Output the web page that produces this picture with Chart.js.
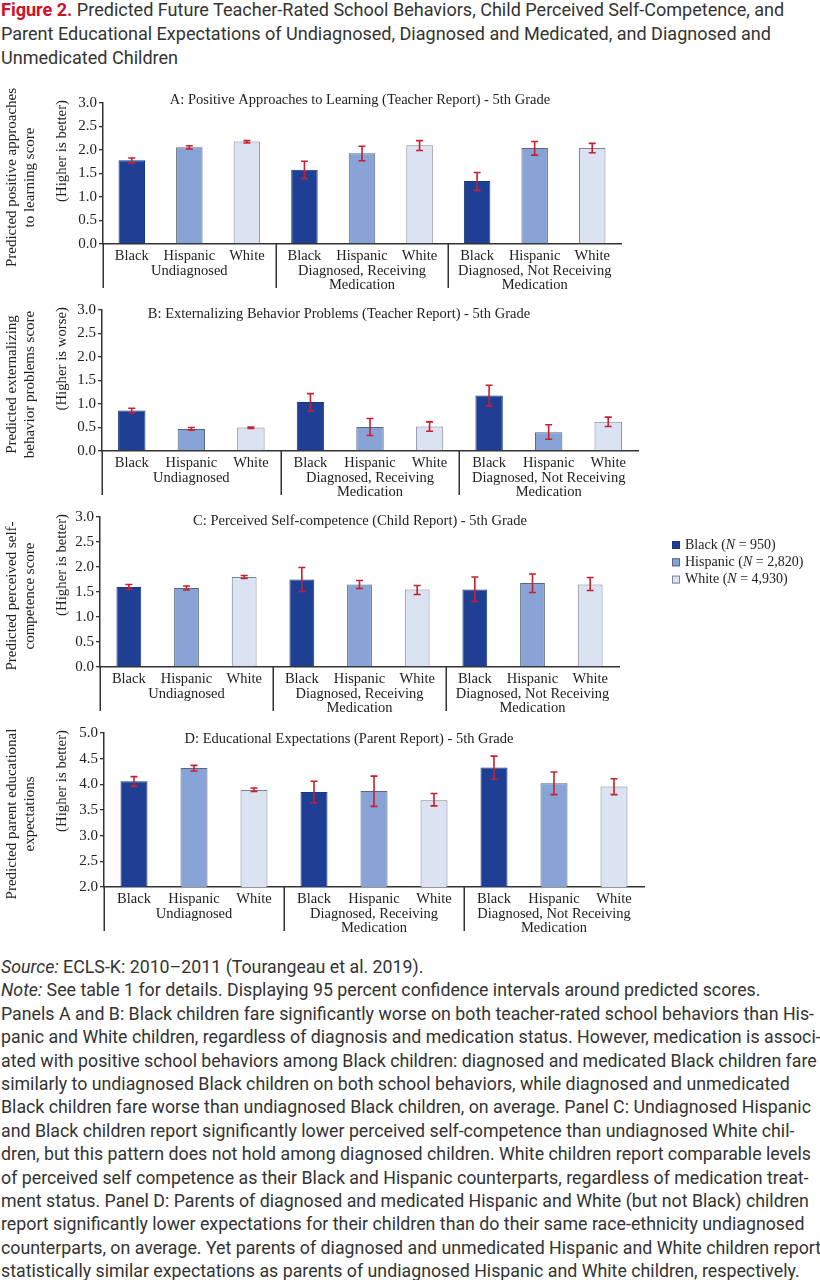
<!DOCTYPE html>
<html><head><meta charset="utf-8">
<script src="https://cdn.jsdelivr.net/npm/chart.js@4"></script>
<style>
html,body{margin:0;padding:0;background:#fff;}
body{width:820px;height:1280px;position:relative;overflow:hidden;}
.txt{position:absolute;left:1px;font-family:Roboto,"Liberation Sans",sans-serif;color:#333;white-space:nowrap;transform-origin:0 0;}
.txt div{white-space:nowrap;}
canvas{position:absolute;left:0;}
</style></head><body>
<div id="title" class="txt" style="top:-2px"></div>
<canvas id="cA"></canvas>
<canvas id="cB"></canvas>
<canvas id="cC"></canvas>
<canvas id="cD"></canvas>
<div id="notes" class="txt" style="top:956px"></div>
<script>
// ---------- DATA ----------
const races = ['Black', 'Hispanic', 'White'];
const groups = [['Undiagnosed'], ['Diagnosed, Receiving', 'Medication'], ['Diagnosed, Not Receiving', 'Medication']];
const legendN = ['950', '2,820', '4,930'];

const aTitle = 'A: Positive Approaches to Learning (Teacher Report) - 5th Grade';
const aYTitle = ['Predicted positive approaches', 'to learning score'];
const aYNote = '(Higher is better)';
const aRange = [0, 3, 0.5];
const aValues = [1.78, 2.06, 2.18, 1.58, 1.93, 2.10, 1.34, 2.04, 2.04];
const aLow    = [1.72, 2.02, 2.15, 1.39, 1.77, 1.99, 1.14, 1.89, 1.94];
const aHigh   = [1.83, 2.09, 2.20, 1.76, 2.08, 2.20, 1.52, 2.18, 2.14];

const bTitle = 'B: Externalizing Behavior Problems (Teacher Report) - 5th Grade';
const bYTitle = ['Predicted externalizing', 'behavior problems score'];
const bYNote = '(Higher is worse)';
const bRange = [0, 3, 0.5];
const bValues = [0.86, 0.47, 0.50, 1.04, 0.51, 0.52, 1.18, 0.40, 0.62];
const bLow    = [0.81, 0.44, 0.48, 0.85, 0.33, 0.42, 0.96, 0.25, 0.52];
const bHigh   = [0.91, 0.50, 0.51, 1.22, 0.69, 0.62, 1.40, 0.56, 0.72];

const cTitle = 'C: Perceived Self-competence (Child Report) - 5th Grade';
const cYTitle = ['Predicted perceived self-', 'competence score'];
const cYNote = '(Higher is better)';
const cRange = [0, 3, 0.5];
const cValues = [1.60, 1.58, 1.80, 1.75, 1.65, 1.55, 1.55, 1.68, 1.65];
const cLow    = [1.55, 1.54, 1.77, 1.51, 1.57, 1.45, 1.31, 1.49, 1.53];
const cHigh   = [1.65, 1.62, 1.83, 1.99, 1.73, 1.63, 1.80, 1.86, 1.79];

const dTitle = 'D: Educational Expectations (Parent Report) - 5th Grade';
const dYTitle = ['Predicted parent educational', 'expectations'];
const dYNote = '(Higher is better)';
const dRange = [2, 5, 0.5];
const dValues = [4.06, 4.32, 3.89, 3.85, 3.87, 3.69, 4.33, 4.02, 3.96];
const dLow    = [3.96, 4.26, 3.86, 3.64, 3.57, 3.58, 4.10, 3.80, 3.80];
const dHigh   = [4.15, 4.37, 3.93, 4.06, 4.16, 3.82, 4.55, 4.24, 4.11];

const figTitleLines = [
  'Predicted Future Teacher-Rated School Behaviors, Child Perceived Self-Competence, and',
  'Parent Educational Expectations of Undiagnosed, Diagnosed and Medicated, and Diagnosed and',
  'Unmedicated Children'
];
const noteLines = [
  '<i>Source:</i> ECLS-K: 2010–2011 (Tourangeau et al. 2019).',
  '<i>Note:</i> See table 1 for details. Displaying 95 percent confidence intervals around predicted scores.',
  'Panels A and B: Black children fare significantly worse on both teacher-rated school behaviors than His-',
  'panic and White children, regardless of diagnosis and medication status. However, medication is associ-',
  'ated with positive school behaviors among Black children: diagnosed and medicated Black children fare',
  'similarly to undiagnosed Black children on both school behaviors, while diagnosed and unmedicated',
  'Black children fare worse than undiagnosed Black children, on average. Panel C: Undiagnosed Hispanic',
  'and Black children report significantly lower perceived self-competence than undiagnosed White chil-',
  'dren, but this pattern does not hold among diagnosed children. White children report comparable levels',
  'of perceived self competence as their Black and Hispanic counterparts, regardless of medication treat-',
  'ment status. Panel D: Parents of diagnosed and medicated Hispanic and White (but not Black) children',
  'report significantly lower expectations for their children than do their same race-ethnicity undiagnosed',
  'counterparts, on average. Yet parents of diagnosed and unmedicated Hispanic and White children report',
  'statistically similar expectations as parents of undiagnosed Hispanic and White children, respectively.'
];

// ---------- STYLE ----------
const SERIF = '"Liberation Serif","DejaVu Serif",serif';
const SANS = 'Roboto,"Liberation Sans",sans-serif';
const fills = ['#1f3f94', '#88a3d5', '#dbe2f2'];
const borders = ['#1a367f', '#58667e', '#7d8494'];
const errColor = '#c8202f';
const axisColor = '#333333';
const textColor = '#222222';
const categories = [];
groups.forEach(() => races.forEach(r => categories.push(r)));

// ---------- TEXT BLOCKS ----------
function measure(text, font) {
  const c = document.createElement('canvas').getContext('2d');
  c.font = font;
  return c.measureText(text).width;
}
const TXT_SIZE = 17.5;
const titleEl = document.getElementById('title');
titleEl.style.fontSize = TXT_SIZE + 'px';
titleEl.innerHTML = figTitleLines.map((l, i) =>
  '<div style="height:24px;line-height:24px">' + (i === 0 ? '<span style="color:#d0112b;font-weight:bold">Figure 2.</span> ' : '') + l + '</div>').join('');
titleEl.style.transform = 'scaleX(' + (770 / measure(figTitleLines[1], TXT_SIZE + 'px ' + SANS)) + ')';

const notesEl = document.getElementById('notes');
notesEl.style.fontSize = TXT_SIZE + 'px';
notesEl.innerHTML = noteLines.map(l => '<div style="height:23.4px;line-height:23.4px">' + l + '</div>').join('');
notesEl.style.transform = 'scaleX(' + (813 / measure(noteLines[2], TXT_SIZE + 'px ' + SANS)) + ')';

// ---------- CHARTS ----------
function panelPlugin(cfg) {
  return {
    id: 'panelDecor',
    afterDraw(chart) {
      const ctx = chart.ctx, ca = chart.chartArea, xs = chart.scales.x, ys = chart.scales.y;
      const meta = chart.getDatasetMeta(0);
      ctx.save();
      // error bars
      ctx.strokeStyle = errColor; ctx.lineWidth = 1.6;
      meta.data.forEach((bar, i) => {
        const x = bar.x, yl = ys.getPixelForValue(cfg.low[i]), yh = ys.getPixelForValue(cfg.high[i]);
        ctx.beginPath();
        ctx.moveTo(x, yh); ctx.lineTo(x, yl);
        ctx.moveTo(x - 3.5, yh); ctx.lineTo(x + 3.5, yh);
        ctx.moveTo(x - 3.5, yl); ctx.lineTo(x + 3.5, yl);
        ctx.stroke();
      });
      // group separators
      const step = xs.getPixelForValue(1) - xs.getPixelForValue(0);
      ctx.strokeStyle = axisColor; ctx.lineWidth = 1.5;
      groups.forEach((g, gi) => {
        const x0 = Math.round(xs.getPixelForValue(gi * 3) - step / 2) + 0.25;
        ctx.beginPath(); ctx.moveTo(x0, ca.bottom); ctx.lineTo(x0, ca.bottom + 44); ctx.stroke();
      });
      // group labels
      ctx.fillStyle = textColor; ctx.textAlign = 'center'; ctx.textBaseline = 'middle';
      ctx.font = '14.5px ' + SERIF;
      groups.forEach((g, gi) => {
        const xc = xs.getPixelForValue(gi * 3 + 1);
        g.forEach((ln, li) => ctx.fillText(ln, xc, ca.bottom + 27 + li * 14));
      });
      // panel title
      ctx.font = '14.5px ' + SERIF;
      ctx.fillText(cfg.title, cfg.titleX, cfg.titleY - cfg.top);
      // y-axis titles
      const yc = (ca.top + ca.bottom) / 2 + 4;
      ctx.font = '15px ' + SERIF;
      cfg.yTitle.forEach((ln, li) => {
        ctx.save(); ctx.translate(12 + li * 18.5, yc); ctx.rotate(-Math.PI / 2);
        ctx.fillText(ln, 0, 0); ctx.restore();
      });
      ctx.font = '14.8px ' + SERIF;
      ctx.textAlign = 'right';
      ctx.save(); ctx.translate(62, ca.top - 3); ctx.rotate(-Math.PI / 2);
      ctx.fillText(cfg.yNote, 0, 0); ctx.restore();
      // legend
      if (cfg.legend) {
        ctx.textAlign = 'left';
        races.forEach((r, i) => {
          const ly = 545 + i * 17.3 - cfg.top;
          ctx.fillStyle = fills[i]; ctx.fillRect(672, ly - 4, 8, 8);
          ctx.strokeStyle = borders[i]; ctx.lineWidth = 1; ctx.strokeRect(672.5, ly - 3.5, 7, 7);
          ctx.fillStyle = textColor;
          let x = 685;
          const parts = [[r + ' (', ''], ['N', 'italic '], [' = ' + legendN[i] + ')', '']];
          parts.forEach(([t, st]) => {
            ctx.font = st + '14px ' + SERIF;
            ctx.fillText(t, x, ly);
            x += ctx.measureText(t).width;
          });
        });
      }
      ctx.restore();
    }
  };
}

function makePanel(id, cfg) {
  const canvas = document.getElementById(id);
  canvas.width = 820; canvas.height = cfg.h;
  canvas.style.top = cfg.top + 'px';
  canvas.style.width = '820px'; canvas.style.height = cfg.h + 'px';
  const chartTop = cfg.plotTop - cfg.top;
  const chartBottom = cfg.plotBottom - cfg.top;
  new Chart(canvas, {
    type: 'bar',
    data: {
      labels: categories,
      datasets: [{
        data: cfg.values,
        backgroundColor: categories.map((c, i) => fills[i % 3]),
        borderColor: categories.map((c, i) => borders[i % 3]),
        borderWidth: 1,
        barPercentage: cfg.barPct,
        categoryPercentage: 1
      }]
    },
    options: {
      responsive: false, animation: false, devicePixelRatio: 1,
      layout: { padding: { left: 0, right: 820 - cfg.plotRight, top: chartTop, bottom: 0 } },
      plugins: { legend: { display: false }, tooltip: { enabled: false } },
      scales: {
        x: {
          grid: { display: false, drawTicks: false },
          border: { display: true, color: axisColor, width: 1.5 },
          ticks: { font: { family: SERIF, size: 14.5 }, color: textColor, padding: 3, autoSkip: false, maxRotation: 0, minRotation: 0 },
          afterFit(s) { s.height = cfg.h - chartBottom; }
        },
        y: {
          min: cfg.range[0], max: cfg.range[1],
          ticks: { stepSize: cfg.range[2], callback: v => Number(v).toFixed(1), font: { family: SERIF, size: 15 }, color: textColor, padding: 2 },
          grid: { drawOnChartArea: false, drawTicks: true, tickLength: 4, color: axisColor, lineWidth: 1.3 },
          border: { color: axisColor, width: 1.5 },
          afterFit(s) { s.width = cfg.plotLeft; }
        }
      }
    },
    plugins: [panelPlugin(cfg)]
  });
}

makePanel('cA', { top: 84, h: 214, plotTop: 103, plotBottom: 244, plotLeft: 103, plotRight: 621, barPct: 0.46,
  values: aValues, low: aLow, high: aHigh, range: aRange, title: aTitle, titleX: 360, titleY: 100, yTitle: aYTitle, yNote: aYNote });
makePanel('cB', { top: 298, h: 207, plotTop: 310, plotBottom: 451, plotLeft: 102, plotRight: 638, barPct: 0.46,
  values: bValues, low: bLow, high: bHigh, range: bRange, title: bTitle, titleX: 339, titleY: 314, yTitle: bYTitle, yNote: bYNote });
makePanel('cC', { top: 505, h: 215, plotTop: 517, plotBottom: 667, plotLeft: 100, plotRight: 619, barPct: 0.43,
  values: cValues, low: cLow, high: cHigh, range: cRange, title: cTitle, titleX: 360, titleY: 521, yTitle: cYTitle, yNote: cYNote, legend: true });
makePanel('cD', { top: 720, h: 225, plotTop: 733, plotBottom: 887, plotLeft: 104, plotRight: 644, barPct: 0.45,
  values: dValues, low: dLow, high: dHigh, range: dRange, title: dTitle, titleX: 349, titleY: 739, yTitle: dYTitle, yNote: dYNote });
</script>
</body></html>
